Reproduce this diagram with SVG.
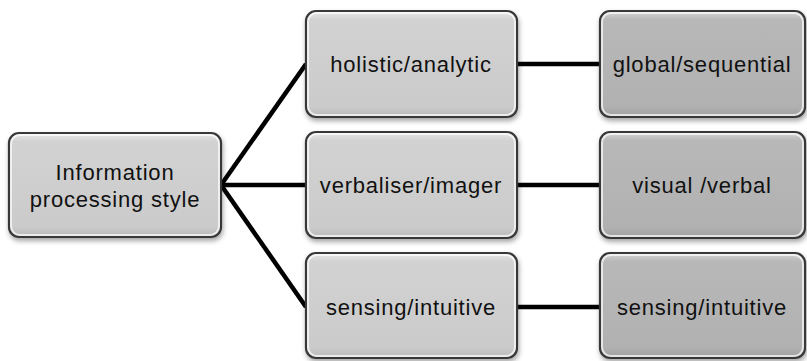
<svg xmlns="http://www.w3.org/2000/svg" width="807" height="361" viewBox="0 0 807 361">
<style>
.box{stroke:#383838;stroke-width:2.2}
.mid{fill:url(#gMid)}
.right{fill:url(#gRight)}
.t{font-family:"Liberation Sans",Arial,sans-serif;font-size:22px;letter-spacing:0.8px;fill:#111;text-anchor:middle}
.c{stroke:#000;stroke-width:4.5;fill:none}
.hl{fill:none;stroke:#fff;stroke-opacity:0.7;stroke-width:2}
</style>
<defs>
<linearGradient id="gMid" x1="0" y1="0" x2="0" y2="1">
<stop offset="0" stop-color="#e6e6e6"/>
<stop offset="0.08" stop-color="#d2d2d2"/>
<stop offset="0.9" stop-color="#cbcbcb"/>
<stop offset="1" stop-color="#b8b8b8"/>
</linearGradient>
<linearGradient id="gRight" x1="0" y1="0" x2="0" y2="1">
<stop offset="0" stop-color="#d6d6d6"/>
<stop offset="0.08" stop-color="#b8b8b8"/>
<stop offset="0.9" stop-color="#b1b1b1"/>
<stop offset="1" stop-color="#9e9e9e"/>
</linearGradient>
<filter id="sh" x="-10%" y="-10%" width="120%" height="130%">
<feDropShadow dx="1" dy="3" stdDeviation="2.5" flood-color="#000" flood-opacity="0.35"/>
</filter>
</defs>
<g id="connectors">
<line class="c" x1="221" y1="185" x2="306" y2="64"/>
<line class="c" x1="221" y1="185" x2="306" y2="185"/>
<line class="c" x1="221" y1="185" x2="306" y2="307"/>
<line class="c" x1="517" y1="64" x2="600" y2="64"/>
<line class="c" x1="517" y1="185" x2="600" y2="185"/>
<line class="c" x1="517" y1="307" x2="600" y2="307"/>
</g>
<g id="root">
<rect class="box mid" x="9" y="133" width="212" height="104" rx="10" filter="url(#sh)"/>
<rect class="hl" x="11" y="135" width="208" height="100" rx="9"/>
<text class="t" x="115" y="180">Information</text>
<text class="t" x="115" y="207">processing style</text>
</g>
<g id="holistic">
<rect class="box mid" x="306" y="11" width="211" height="106" rx="10" filter="url(#sh)"/>
<rect class="hl" x="308" y="13" width="207" height="102" rx="9"/>
<text class="t" x="411" y="72">holistic/analytic</text>
</g>
<g id="verbaliser">
<rect class="box mid" x="306" y="132" width="211" height="106" rx="10" filter="url(#sh)"/>
<rect class="hl" x="308" y="134" width="207" height="102" rx="9"/>
<text class="t" x="411" y="193">verbaliser/imager</text>
</g>
<g id="sensing1">
<rect class="box mid" x="306" y="253" width="211" height="105" rx="10" filter="url(#sh)"/>
<rect class="hl" x="308" y="255" width="207" height="101" rx="9"/>
<text class="t" x="411" y="315">sensing/intuitive</text>
</g>
<g id="global">
<rect class="box right" x="600" y="11" width="205" height="106" rx="10" filter="url(#sh)"/>
<rect class="hl" x="602" y="13" width="201" height="102" rx="9" stroke-opacity="0.4"/>
<text class="t" x="702" y="72">global/sequential</text>
</g>
<g id="visual">
<rect class="box right" x="600" y="132" width="205" height="106" rx="10" filter="url(#sh)"/>
<rect class="hl" x="602" y="134" width="201" height="102" rx="9" stroke-opacity="0.4"/>
<text class="t" x="702" y="193">visual /verbal</text>
</g>
<g id="sensing2">
<rect class="box right" x="600" y="253" width="205" height="105" rx="10" filter="url(#sh)"/>
<rect class="hl" x="602" y="255" width="201" height="101" rx="9" stroke-opacity="0.4"/>
<text class="t" x="702" y="315">sensing/intuitive</text>
</g>
</svg>
